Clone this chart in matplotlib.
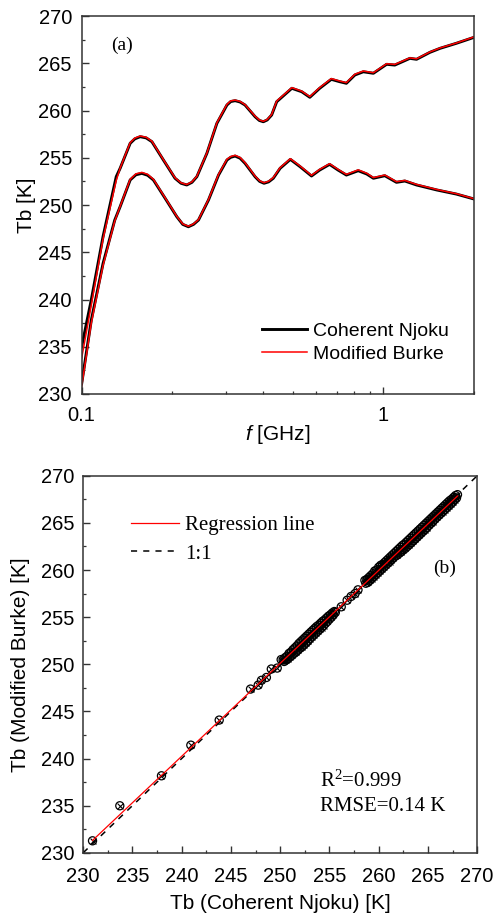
import numpy as np
import matplotlib
matplotlib.use("Agg")
import matplotlib.pyplot as plt
from matplotlib.ticker import MultipleLocator, FixedLocator, NullFormatter

plt.rcParams['font.family'] = 'Liberation Sans'
plt.rcParams['mathtext.fontset'] = 'custom'
plt.rcParams['mathtext.it'] = 'Liberation Sans:italic'
plt.rcParams['mathtext.rm'] = 'Liberation Serif'

# (a) brightness temperature vs frequency
f_up = [0.100, 0.1076, 0.1177, 0.1302, 0.1341, 0.1448, 0.150, 0.1563, 0.1636, 0.1709,
        0.1866, 0.2039, 0.2135, 0.2230, 0.232, 0.2409, 0.2600, 0.2806, 0.303, 0.312,
        0.3226, 0.335, 0.3479, 0.3757, 0.388, 0.400, 0.412, 0.4262, 0.443, 0.4972,
        0.5361, 0.5704, 0.6149, 0.6721, 0.7164, 0.754, 0.8045, 0.858, 0.9265, 1.025,
        1.091, 1.224, 1.288, 1.427, 1.541, 1.744, 2.0]
tb_njoku_up = [235.0, 239.95, 246.65, 253.0, 253.88, 256.53, 257.0, 257.23, 257.1, 256.7,
               254.76, 252.83, 252.3, 252.12, 252.4, 253.0, 255.47, 258.64, 260.58, 260.95,
               261.04, 260.9, 260.58, 259.34, 258.95, 258.81, 259.0, 259.52, 260.93, 262.35,
               261.99, 261.4, 262.35, 263.3, 263.05, 262.88, 263.76, 264.1, 263.94, 264.89,
               264.81, 265.52, 265.42, 266.16, 266.58, 267.11, 267.75]
tb_burke_up = [233.8, 239.4, 246.4, 252.6, 253.9, 256.6, 257.08, 257.3, 257.17, 256.75,
               254.8, 252.88, 252.35, 252.17, 252.45, 253.05, 255.5, 258.7, 260.65, 261.02,
               261.1, 260.96, 260.62, 259.4, 259.0, 258.86, 259.05, 259.58, 261.0, 262.42,
               262.05, 261.47, 262.42, 263.38, 263.12, 262.95, 263.84, 264.18, 264.0, 264.95,
               264.88, 265.57, 265.47, 266.2, 266.62, 267.14, 267.8]

f_lo = [0.100, 0.1076, 0.1177, 0.1287, 0.1341, 0.1448, 0.1513, 0.1583, 0.1654, 0.1729,
        0.1891, 0.2067, 0.2163, 0.2258, 0.2348, 0.2439, 0.2632, 0.2842, 0.303, 0.312,
        0.3226, 0.335, 0.3479, 0.3757, 0.389, 0.4021, 0.4165, 0.4316, 0.4546, 0.4917,
        0.5298, 0.5778, 0.6149, 0.6632, 0.7076, 0.754, 0.8253, 0.8808, 0.9265, 1.011,
        1.105, 1.178, 1.288, 1.504, 1.744, 2.0]
tb_njoku_lo = [231.1, 237.8, 243.8, 248.4, 249.82, 252.65, 253.2, 253.35, 253.15, 252.65,
               250.71, 248.76, 247.95, 247.7, 247.95, 248.41, 250.53, 253.17, 254.76, 255.05,
               255.18, 254.95, 254.41, 252.99, 252.5, 252.3, 252.45, 252.83, 253.88, 254.83,
               254.05, 253.07, 253.7, 254.3, 253.7, 253.17, 253.63, 253.28, 252.83, 253.1,
               252.4, 252.54, 252.12, 251.59, 251.16, 250.63]
tb_burke_lo = [230.8, 237.5, 243.6, 248.3, 249.85, 252.72, 253.3, 253.45, 253.25, 252.72,
               250.76, 248.8, 248.0, 247.75, 248.0, 248.46, 250.58, 253.24, 254.84, 255.13,
               255.26, 255.03, 254.48, 253.05, 252.56, 252.36, 252.52, 252.9, 253.95, 254.9,
               254.12, 253.14, 253.77, 254.37, 253.77, 253.24, 253.72, 253.36, 252.9, 253.17,
               252.47, 252.6, 252.18, 251.64, 251.2, 250.66]

# (b) scatter of both models: isolated points, lower band, upper band
iso_njoku = [230.95, 233.72, 237.95, 240.93, 243.81, 246.99, 247.77, 248.1, 248.6, 249.1,
             249.7, 250.1, 256.2, 256.8, 257.2, 257.6, 257.9]
iso_burke = [231.27, 234.99, 238.17, 241.42, 244.08, 247.37, 247.79, 248.3, 248.6, 249.5,
             249.6, 250.5, 256.1, 256.8, 257.2, 257.5, 257.9]

lo_njoku = [250.3, 250.4, 250.5, 250.6, 250.7, 250.8, 250.9, 251.0, 251.1, 251.2,
            251.3, 251.4, 251.5, 251.6, 251.7, 251.8, 251.9, 252.0, 252.1, 252.2,
            252.3, 252.4, 252.5, 252.6, 252.7, 252.8, 252.9, 253.0, 253.1, 253.2,
            253.3, 253.4, 253.5, 253.6, 253.7, 253.8, 253.9, 254.0, 254.1, 254.2,
            254.3, 254.4, 254.5, 254.6, 254.7, 254.8, 254.9, 255.0, 255.1, 255.2,
            255.3, 255.4, 255.5, 255.6]
lo_burke = [250.45, 250.3, 250.7, 250.45, 250.85, 250.6, 251.15, 250.8, 251.3, 250.95,
            251.55, 251.15, 251.75, 251.3, 251.95, 251.5, 252.2, 251.7, 252.4, 251.85,
            252.6, 252.05, 252.8, 252.25, 253.0, 252.45, 253.2, 252.7, 253.4, 252.9,
            253.6, 253.1, 253.8, 253.3, 254.0, 253.5, 254.15, 253.7, 254.35, 253.9,
            254.55, 254.1, 254.7, 254.35, 254.9, 254.55, 255.1, 254.8, 255.25, 255.0,
            255.45, 255.25, 255.6, 255.5]

hi_njoku = [258.6, 258.7, 258.8, 258.9, 259.0, 259.1, 259.2, 259.3, 259.4, 259.5,
            259.6, 259.7, 259.8, 259.9, 260.0, 260.1, 260.2, 260.3, 260.4, 260.5,
            260.6, 260.7, 260.8, 260.9, 261.0, 261.1, 261.2, 261.3, 261.4, 261.5,
            261.6, 261.7, 261.8, 261.9, 262.0, 262.1, 262.2, 262.3, 262.4, 262.5,
            262.6, 262.7, 262.8, 262.9, 263.0, 263.1, 263.2, 263.3, 263.4, 263.5,
            263.6, 263.7, 263.8, 263.9, 264.0, 264.1, 264.2, 264.3, 264.4, 264.5,
            264.6, 264.7, 264.8, 264.9, 265.0, 265.1, 265.2, 265.3, 265.4, 265.5,
            265.6, 265.7, 265.8, 265.9, 266.0, 266.1, 266.2, 266.3, 266.4, 266.5,
            266.6, 266.7, 266.8, 266.9, 267.0, 267.1, 267.2, 267.3, 267.4, 267.5,
            267.6, 267.7, 267.8, 267.9, 268.0]
hi_burke = [258.9, 258.6, 259.0, 258.7, 259.2, 258.9, 259.4, 259.1, 259.6, 259.3,
            259.9, 259.5, 260.0, 259.7, 260.3, 259.9, 260.5, 260.1, 260.6, 260.3,
            260.8, 260.5, 261.0, 260.7, 261.2, 260.9, 261.4, 261.1, 261.6, 261.3,
            261.8, 261.5, 262.0, 261.6, 262.2, 261.8, 262.4, 261.95, 262.6, 262.15,
            262.75, 262.3, 262.95, 262.5, 263.15, 262.7, 263.35, 262.9, 263.55, 263.1,
            263.75, 263.3, 263.95, 263.5, 264.15, 263.7, 264.35, 263.9, 264.55, 264.1,
            264.75, 264.3, 264.95, 264.5, 265.15, 264.75, 265.35, 264.95, 265.55, 265.15,
            265.75, 265.4, 265.95, 265.6, 266.15, 265.8, 266.35, 266.0, 266.55, 266.2,
            266.75, 266.4, 266.95, 266.6, 267.15, 266.8, 267.35, 267.0, 267.5, 267.2,
            267.7, 267.45, 267.9, 267.65, 268.0]

sc_njoku = np.array(iso_njoku + lo_njoku + hi_njoku)
sc_burke = np.array(iso_burke + lo_burke + hi_burke)

fig = plt.figure(figsize=(4.95, 9.15), dpi=100)
ax1 = fig.add_axes([0.165, 0.5694, 0.793, 0.4131])
ax2 = fig.add_axes([0.168, 0.068, 0.796, 0.412])

spine_c = '#333333'
for ax in (ax1, ax2):
    for s in ax.spines.values():
        s.set_linewidth(1.1)
        s.set_color(spine_c)
    ax.tick_params(which='both', direction='in', top=False, right=False,
                   colors=spine_c, labelcolor='black', labelsize=14.5)
    ax.tick_params(which='major', length=5, width=1.0)
    ax.tick_params(which='minor', length=2.5, width=0.9)

ax1.tick_params(axis='x', pad=8.5)
ax1.tick_params(axis='y', pad=7)
ax2.tick_params(axis='x', pad=10)
ax2.tick_params(axis='y', pad=6)

# panel (a)
ax1.plot(f_up, tb_njoku_up, color='black', lw=2.1, label='Coherent Njoku')
ax1.plot(f_lo, tb_njoku_lo, color='black', lw=2.1)
ax1.plot(f_up, tb_burke_up, color='red', lw=1.1, label='Modified Burke')
ax1.plot(f_lo, tb_burke_lo, color='red', lw=1.1)
ax1.set_xscale('log')
ax1.set_xlim(0.1, 2.0)
ax1.set_ylim(230, 270)
ax1.xaxis.set_major_locator(FixedLocator([0.1, 1]))
ax1.set_xticklabels(['0.1', '1'])
ax1.xaxis.set_minor_locator(FixedLocator([0.2, 0.3, 0.4, 0.5, 0.6, 0.7, 0.8, 0.9, 2.0]))
ax1.xaxis.set_minor_formatter(NullFormatter())
ax1.yaxis.set_major_locator(MultipleLocator(5))
ax1.yaxis.set_minor_locator(MultipleLocator(2.5))
ax1.set_ylabel('Tb [K]', fontsize=15, labelpad=1.5)
ax1.set_xlabel(r'$\mathit{f}$ [GHz]', fontsize=15, labelpad=-1)
ax1.text(0.103, 0.923, '(a)', transform=ax1.transAxes, family='Liberation Serif',
         fontsize=14, ha='center', va='center')
ax1.legend(loc='upper left', bbox_to_anchor=(0.435, 0.215), frameon=False, fontsize=14,
           handlelength=2.3, handletextpad=0.3, labelspacing=0.25, borderpad=0)

# panel (b)
ax2.set_xlim(230, 270)
ax2.set_ylim(230, 270)
ax2.plot([230, 270], [230, 270], color='black', lw=1.1, ls=(0, (4, 4)), label='1:1', zorder=2)
ax2.scatter(sc_njoku, sc_burke, s=34, facecolors='none', edgecolors='black', linewidths=0.9, zorder=3)
ax2.scatter(sc_njoku, sc_burke, s=18, marker='x', color='black', linewidths=0.8, zorder=3)
k, b = np.polyfit(sc_njoku, sc_burke, 1)
xr = np.array([sc_njoku.min(), sc_njoku.max()])
ax2.plot(xr, k * xr + b, color='red', lw=0.9, label='Regression line', zorder=4)
ax2.xaxis.set_major_locator(MultipleLocator(5))
ax2.xaxis.set_minor_locator(MultipleLocator(2.5))
ax2.yaxis.set_major_locator(MultipleLocator(5))
ax2.yaxis.set_minor_locator(MultipleLocator(2.5))
ax2.set_xlabel('Tb (Coherent Njoku) [K]', fontsize=15, labelpad=6)
ax2.set_ylabel('Tb (Modified Burke) [K]', fontsize=15, labelpad=8)
h, l = ax2.get_legend_handles_labels()
ax2.legend([h[1], h[0]], [l[1], l[0]], loc='upper left', bbox_to_anchor=(0.095, 0.923),
           frameon=False, prop={'family': 'Liberation Serif', 'size': 15},
           handlelength=2.3, handletextpad=0.3, labelspacing=0.45, borderpad=0)
ax2.text(0.918, 0.755, '(b)', transform=ax2.transAxes, family='Liberation Serif',
         fontsize=14, ha='center', va='center')
ax2.text(0.60, 0.19, r'R$^{\mathrm{2}}$=0.999', transform=ax2.transAxes,
         family='Liberation Serif', fontsize=15, ha='left', va='center')
ax2.text(0.60, 0.122, 'RMSE=0.14 K', transform=ax2.transAxes,
         family='Liberation Serif', fontsize=15, ha='left', va='center')

fig.savefig('out.png', dpi=100)
